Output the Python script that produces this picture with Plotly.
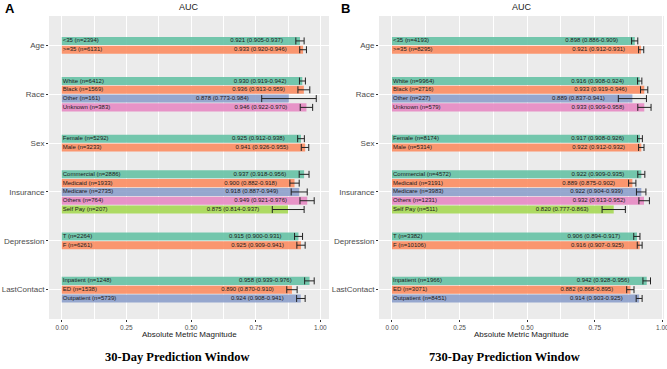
import plotly.graph_objects as go

W, H = 667, 369

categories = ["Age", "Race", "Sex", "Insurance", "Depression", "LastContact"]

# ---- Panel A: 30-day window ----
a_group = ["Age", "Age", "Race", "Race", "Race", "Race", "Sex", "Sex",
           "Insurance", "Insurance", "Insurance", "Insurance", "Insurance",
           "Depression", "Depression", "LastContact", "LastContact", "LastContact"]
a_sub = ["<35", ">=35", "White", "Black", "Other", "Unknown", "Female", "Male",
         "Commercial", "Medicaid", "Medicare", "Others", "Self Pay",
         "T", "F", "Inpatient", "ED", "Outpatient"]
a_n = [2394, 6131, 6412, 1569, 161, 383, 5292, 3233,
       2886, 1933, 2735, 764, 207, 2264, 6261, 1248, 1538, 5739]
a_auc = [0.921, 0.933, 0.930, 0.936, 0.878, 0.946, 0.925, 0.941,
         0.937, 0.900, 0.918, 0.949, 0.875, 0.915, 0.925, 0.958, 0.890, 0.924]
a_lo = [0.905, 0.920, 0.919, 0.913, 0.773, 0.922, 0.912, 0.926,
        0.918, 0.882, 0.887, 0.921, 0.814, 0.900, 0.909, 0.939, 0.870, 0.908]
a_hi = [0.937, 0.946, 0.942, 0.959, 0.984, 0.970, 0.938, 0.955,
        0.956, 0.918, 0.949, 0.976, 0.937, 0.931, 0.941, 0.976, 0.910, 0.941]

# ---- Panel B: 730-day window ----
b_group = a_group
b_sub = a_sub
b_n = [4193, 8295, 9964, 2716, 227, 579, 8174, 5314,
       4572, 3191, 3983, 1231, 511, 3382, 10106, 1966, 3071, 8451]
b_auc = [0.898, 0.921, 0.916, 0.933, 0.889, 0.933, 0.917, 0.922,
         0.922, 0.889, 0.922, 0.932, 0.820, 0.906, 0.916, 0.942, 0.882, 0.914]
b_lo = [0.886, 0.912, 0.908, 0.919, 0.837, 0.909, 0.908, 0.912,
        0.909, 0.875, 0.904, 0.913, 0.777, 0.894, 0.907, 0.928, 0.868, 0.903]
b_hi = [0.909, 0.931, 0.924, 0.946, 0.941, 0.958, 0.926, 0.932,
        0.935, 0.902, 0.939, 0.952, 0.863, 0.917, 0.925, 0.956, 0.895, 0.925]

panel_titles = ["AUC", "AUC"]
panel_letters = ["A", "B"]
captions = ["30-Day Prediction Window", "730-Day Prediction Window"]
x_ticks = [0, 0.25, 0.5, 0.75, 1.0]
x_ticklabels = ["0.00", "0.25", "0.50", "0.75", "1.00"]
x_title = "Absolute Metric Magnitude"

set2 = [(102, 194, 165), (252, 141, 98), (141, 160, 203), (231, 138, 195), (166, 216, 84)]
ALPHA = 0.9
STEP = 0.18
BARW = 0.165
NUDGE = 0.05

fig = go.Figure()

def add_panel(ax, group, sub, n, auc, lo, hi):
    xa = "x" if ax == 1 else "x2"
    ya = "y" if ax == 1 else "y2"
    pos, slot = [], []
    for i, g in enumerate(group):
        members = [k for k, gg in enumerate(group) if gg == g]
        j = members.index(i)
        m = len(members)
        pos.append(categories.index(g) + (j - (m - 1) / 2) * STEP)
        slot.append(j)
    for j in range(5):
        idx = [i for i in range(len(group)) if slot[i] == j]
        if not idx:
            continue
        r, g_, b = set2[j]
        fig.add_trace(go.Bar(
            x=[auc[i] for i in idx], y=[pos[i] for i in idx], orientation="h",
            width=BARW, xaxis=xa, yaxis=ya,
            marker=dict(color=f"rgba({r},{g_},{b},{ALPHA})", line=dict(width=0)),
            error_x=dict(type="data", symmetric=False,
                         array=[hi[i] - auc[i] for i in idx],
                         arrayminus=[auc[i] - lo[i] for i in idx],
                         color="#222222", thickness=1, width=3.5),
            showlegend=False, hoverinfo="skip"))
    fig.add_trace(go.Scatter(
        x=[0.004] * len(group), y=pos, mode="text", xaxis=xa, yaxis=ya,
        text=[f"{s} (n={k})" for s, k in zip(sub, n)],
        textposition="middle right",
        textfont=dict(family="Liberation Sans, Arial", size=6, color="#1a1a1a"),
        showlegend=False, hoverinfo="skip", cliponaxis=False))
    fig.add_trace(go.Scatter(
        x=[l - NUDGE for l in lo], y=pos, mode="text", xaxis=xa, yaxis=ya,
        text=[f"{v:.3f} ({l:.3f}-{h:.3f})" for v, l, h in zip(auc, lo, hi)],
        textposition="middle left",
        textfont=dict(family="Liberation Sans, Arial", size=6, color="#1a1a1a"),
        showlegend=False, hoverinfo="skip", cliponaxis=False))

add_panel(1, a_group, a_sub, a_n, a_auc, a_lo, a_hi)
add_panel(2, b_group, b_sub, b_n, b_auc, b_lo, b_hi)

def xrange(lo, hi):
    top = max(hi)
    return [-0.05 * top, top * 1.05]

y_dom = [1 - 319 / H, 1 - 16 / H]
dom_a = [49 / W, 329 / W]
dom_b = [379 / W, 664 / W]

xcommon = dict(tickvals=x_ticks, ticktext=x_ticklabels, showgrid=True, gridcolor="white",
               gridwidth=1, zeroline=False, ticks="outside", ticklen=2, tickcolor="#333333",
               tickfont=dict(family="Liberation Sans, Arial", size=6.5, color="#4d4d4d"),
               minor=dict(tick0=0, dtick=0.125, showgrid=True, gridcolor="white", gridwidth=0.5),
               showline=False, automargin=False, fixedrange=True, ticklabeloverflow="allow")
ycommon = dict(tickvals=list(range(len(categories))), ticktext=categories,
               range=[5.6, -0.6], showgrid=True, gridcolor="white", gridwidth=1,
               zeroline=False, ticks="outside", ticklen=2, tickcolor="#333333",
               tickfont=dict(family="Liberation Sans, Arial", size=8, color="#4d4d4d"),
               domain=y_dom, automargin=False, fixedrange=True)

fig.update_layout(
    width=W, height=H, margin=dict(l=0, r=0, t=0, b=0, autoexpand=False),
    paper_bgcolor="white", plot_bgcolor="#EBEBEB", barmode="overlay",
    xaxis=dict(xcommon, domain=dom_a, range=xrange(a_lo, a_hi), anchor="y"),
    yaxis=dict(ycommon, anchor="x"),
    xaxis2=dict(xcommon, domain=dom_b, range=xrange(b_lo, b_hi), anchor="y2"),
    yaxis2=dict(ycommon, anchor="x2"),
    showlegend=False,
)

ann = []
for k, dom in enumerate([dom_a, dom_b]):
    cx = (dom[0] + dom[1]) / 2
    ann.append(dict(x=cx, y=1 - 7.5 / H, xref="paper", yref="paper", text=panel_titles[k],
                    showarrow=False, xanchor="center", yanchor="middle",
                    font=dict(family="Liberation Sans, Arial", size=9, color="#1a1a1a")))
    ann.append(dict(x=cx, y=1 - 334 / H, xref="paper", yref="paper", text=x_title,
                    showarrow=False, xanchor="center", yanchor="middle",
                    font=dict(family="Liberation Sans, Arial", size=8, color="#1a1a1a")))
ann.append(dict(x=3 / W, y=1 - 8 / H, xref="paper", yref="paper", text="<b>A</b>",
                showarrow=False, xanchor="left", yanchor="middle",
                font=dict(family="Liberation Sans, Arial", size=13, color="black")))
ann.append(dict(x=339 / W, y=1 - 8 / H, xref="paper", yref="paper", text="<b>B</b>",
                showarrow=False, xanchor="left", yanchor="middle",
                font=dict(family="Liberation Sans, Arial", size=13, color="black")))
ann.append(dict(x=177 / W, y=1 - 357 / H, xref="paper", yref="paper", text=f"<b>{captions[0]}</b>",
                showarrow=False, xanchor="center", yanchor="middle",
                font=dict(family="Liberation Serif, Times New Roman", size=12.5, color="black")))
ann.append(dict(x=504 / W, y=1 - 357 / H, xref="paper", yref="paper", text=f"<b>{captions[1]}</b>",
                showarrow=False, xanchor="center", yanchor="middle",
                font=dict(family="Liberation Serif, Times New Roman", size=12.5, color="black")))
fig.update_layout(annotations=ann)

fig.write_html("out.html", config={"displayModeBar": False},
               post_script="document.body.style.margin='0';")
